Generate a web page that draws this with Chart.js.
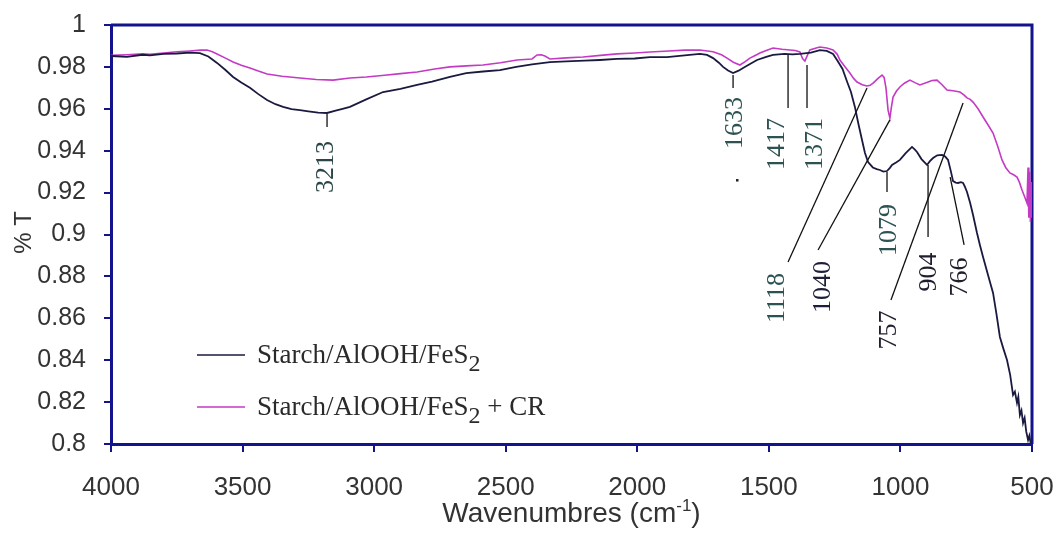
<!DOCTYPE html>
<html>
<head>
<meta charset="utf-8">
<title>FTIR spectra</title>
<script src="https://cdn.jsdelivr.net/npm/chart.js@4.4.0/dist/chart.umd.min.js"></script>
<style>
  html, body { margin: 0; padding: 0; background: #fff; }
  #wrap { width: 1060px; height: 533px; }
</style>
</head>
<body>
<div id="wrap"><canvas id="ftirChart" width="1060" height="533"></canvas></div>
<script>
// Axis ticks
const xTicks = [4000, 3500, 3000, 2500, 2000, 1500, 1000, 500];
const yTicks = [0.8, 0.82, 0.84, 0.86, 0.88, 0.9, 0.92, 0.94, 0.96, 0.98, 1];

// Starch/AlOOH/FeS2 spectrum (wavenumber, transmittance)
const starchWn = [4000, 3940, 3880, 3852, 3800, 3750, 3700, 3662, 3630, 3597, 3565, 3536, 3505, 3472, 3440, 3407, 3375, 3346, 3314, 3282, 3250, 3213, 3179, 3150, 3120, 3092, 3030, 2966, 2900, 2837, 2780, 2712, 2650, 2586, 2522, 2460, 2400, 2332, 2270, 2200, 2142, 2077, 2010, 1952, 1887, 1820, 1762, 1735, 1712, 1690, 1674, 1655, 1636, 1615, 1598, 1570, 1545, 1510, 1484, 1440, 1410, 1382, 1340, 1306, 1280, 1256, 1241, 1220, 1203, 1188, 1173, 1160, 1146, 1135, 1123, 1105, 1090, 1078, 1065, 1051, 1040, 1032, 1015, 1002, 980, 956, 945, 937, 920, 899, 888, 876, 860, 842, 830, 819, 808, 800, 790, 781, 770, 762, 755, 747, 735, 724, 709, 698, 686, 670, 660, 648, 635, 622, 610, 595, 583, 572, 565, 557, 552, 546, 540, 534, 528, 522, 515, 510, 505, 500];
const starchT = [0.9852, 0.9848, 0.9858, 0.9855, 0.9862, 0.9864, 0.9868, 0.9866, 0.985, 0.9819, 0.9785, 0.9752, 0.9725, 0.97, 0.967, 0.9642, 0.9622, 0.9609, 0.9598, 0.9594, 0.9588, 0.9582, 0.958, 0.959, 0.96, 0.9609, 0.9645, 0.968, 0.9695, 0.9714, 0.973, 0.9752, 0.977, 0.9778, 0.9785, 0.98, 0.9812, 0.9823, 0.9826, 0.983, 0.9833, 0.9838, 0.984, 0.9847, 0.9847, 0.9855, 0.9862, 0.9857, 0.9842, 0.982, 0.98, 0.9783, 0.9771, 0.9782, 0.9795, 0.9815, 0.9833, 0.9848, 0.9857, 0.9862, 0.986, 0.9862, 0.9868, 0.988, 0.9876, 0.9862, 0.9833, 0.979, 0.973, 0.968, 0.9609, 0.953, 0.9451, 0.939, 0.9346, 0.932, 0.9312, 0.9308, 0.93, 0.9303, 0.9318, 0.9332, 0.9345, 0.9356, 0.9388, 0.9418, 0.9405, 0.9394, 0.936, 0.9332, 0.935, 0.9365, 0.9378, 0.938, 0.9372, 0.9356, 0.93, 0.9255, 0.9248, 0.9246, 0.925, 0.9246, 0.9228, 0.9203, 0.915, 0.9093, 0.9007, 0.895, 0.8893, 0.882, 0.8775, 0.8721, 0.862, 0.8511, 0.846, 0.8401, 0.833, 0.8234, 0.825, 0.8196, 0.8225, 0.8138, 0.816, 0.81, 0.8125, 0.806, 0.8019, 0.804, 0.8002, 0.8];

// Starch/AlOOH/FeS2 + CR spectrum
const dyedWn = [4000, 3940, 3880, 3852, 3800, 3750, 3700, 3660, 3635, 3615, 3597, 3565, 3536, 3505, 3472, 3440, 3407, 3350, 3282, 3220, 3156, 3092, 3030, 2960, 2900, 2837, 2770, 2712, 2650, 2586, 2520, 2457, 2400, 2381, 2365, 2351, 2332, 2270, 2206, 2140, 2077, 2010, 1952, 1880, 1820, 1762, 1712, 1680, 1659, 1635, 1610, 1590, 1572, 1550, 1534, 1510, 1484, 1450, 1420, 1400, 1382, 1372, 1363, 1352, 1344, 1320, 1306, 1280, 1256, 1240, 1230, 1210, 1192, 1178, 1165, 1145, 1127, 1115, 1104, 1085, 1070, 1062, 1055, 1047, 1040, 1034, 1028, 1015, 1002, 985, 964, 945, 926, 900, 880, 861, 842, 823, 800, 774, 760, 747, 735, 724, 705, 686, 668, 648, 630, 614, 600, 584, 570, 557, 548, 538, 528, 519, 515, 512, 509, 506, 503, 500];
const dyedT = [0.9855, 0.9858, 0.9862, 0.986, 0.9866, 0.9872, 0.9876, 0.988, 0.9881, 0.9872, 0.9862, 0.9842, 0.9823, 0.9808, 0.9795, 0.978, 0.9766, 0.9755, 0.9747, 0.974, 0.9737, 0.9747, 0.9752, 0.976, 0.9768, 0.9776, 0.979, 0.98, 0.9805, 0.9809, 0.982, 0.9833, 0.9838, 0.9857, 0.9858, 0.9852, 0.9838, 0.9843, 0.9847, 0.9855, 0.9862, 0.9866, 0.9871, 0.9876, 0.988, 0.9881, 0.9872, 0.9858, 0.9842, 0.9822, 0.9809, 0.9825, 0.9842, 0.9856, 0.9866, 0.9878, 0.989, 0.9884, 0.9881, 0.9878, 0.9871, 0.984, 0.9828, 0.986, 0.9881, 0.989, 0.9895, 0.989, 0.9881, 0.986, 0.9833, 0.98, 0.9771, 0.9745, 0.9728, 0.9715, 0.9709, 0.9712, 0.9723, 0.9745, 0.9761, 0.975, 0.97, 0.9594, 0.9556, 0.961, 0.9656, 0.9685, 0.9704, 0.9722, 0.9737, 0.9725, 0.9714, 0.9725, 0.9735, 0.9737, 0.9715, 0.969, 0.9686, 0.968, 0.9668, 0.9652, 0.9645, 0.9632, 0.96, 0.9561, 0.9525, 0.9484, 0.942, 0.9356, 0.932, 0.9294, 0.9285, 0.9274, 0.925, 0.9212, 0.918, 0.915, 0.932, 0.908, 0.93, 0.906, 0.925, 0.908];

// Band assignments: label text, leader line ends and label centre, all in data units
const peakLabels = ['3213', '1633', '1417', '1371', '1118', '1040', '1079', '757', '904', '766'];
const peakLines = [
  [[3179, 0.9575], [3179, 0.9513]],
  [[1636, 0.9761], [1636, 0.9699]],
  [[1427, 0.9857], [1427, 0.9604]],
  [[1355, 0.9809], [1355, 0.9604]],
  [[1427, 0.8869], [1127, 0.9699]],
  [[1313, 0.8926], [1040, 0.9547]],
  [[1051, 0.9298], [1051, 0.9203]],
  [[1036, 0.8687], [762, 0.9628]],
  [[895, 0.9332], [895, 0.8988]],
  [[811, 0.9274], [758, 0.895]]
];
const peakTextAt = [[3183, 0.9322], [1629, 0.9532], [1469, 0.9432], [1325, 0.9432], [1469, 0.8697], [1294, 0.8749], [1043, 0.9021], [1043, 0.8544], [891, 0.8821], [774, 0.8797]];
const peakColors = ['#2a4646', '#2d5252', '#2d5252', '#2d5252', '#2d5252', '#1e1e3a', '#2d5252', '#1e1e2e', '#1e1e2e', '#1e1e2e'];

const NAVY = '#13138c';
const TICK_COLOR = '#333333';

function toPoints(xs, ys) {
  return xs.map((x, i) => ({ x: x, y: ys[i] }));
}

// draws "base" + subscript/superscript + tail, returns total width
function drawScript(ctx, x, y, base, script, tail, font, smallFont, shift, measureOnly) {
  ctx.font = font;
  const w1 = ctx.measureText(base).width;
  ctx.font = smallFont;
  const w2 = ctx.measureText(script).width;
  ctx.font = font;
  const w3 = ctx.measureText(tail).width;
  if (!measureOnly) {
    ctx.fillText(base, x, y);
    ctx.font = smallFont;
    ctx.fillText(script, x + w1, y + shift);
    ctx.font = font;
    ctx.fillText(tail, x + w1 + w2, y);
  }
  return w1 + w2 + w3;
}

// box round the plot: top and right edges (left/bottom come from the axes)
const framePlugin = {
  id: 'frame',
  beforeDatasetsDraw(chart) {
    const { ctx, chartArea: a } = chart;
    ctx.save();
    ctx.strokeStyle = NAVY;
    ctx.lineWidth = 3;
    ctx.beginPath();
    ctx.moveTo(a.left, a.top);
    ctx.lineTo(a.right, a.top);
    ctx.lineTo(a.right, a.bottom);
    ctx.stroke();
    ctx.restore();
  }
};

const peakPlugin = {
  id: 'peaks',
  afterDatasetsDraw(chart) {
    const { ctx } = chart;
    const xs = chart.scales.x, ys = chart.scales.y;
    ctx.save();
    ctx.strokeStyle = '#111';
    ctx.lineWidth = 1.3;
    peakLines.forEach(l => {
      ctx.beginPath();
      ctx.moveTo(xs.getPixelForValue(l[0][0]), ys.getPixelForValue(l[0][1]));
      ctx.lineTo(xs.getPixelForValue(l[1][0]), ys.getPixelForValue(l[1][1]));
      ctx.stroke();
    });
    ctx.font = '26px "Liberation Serif"';
    ctx.textAlign = 'center';
    ctx.textBaseline = 'middle';
    peakLabels.forEach((txt, i) => {
      const px = xs.getPixelForValue(peakTextAt[i][0]);
      const py = ys.getPixelForValue(peakTextAt[i][1]);
      ctx.save();
      ctx.translate(px, py);
      ctx.rotate(-Math.PI / 2);
      ctx.fillStyle = peakColors[i];
      ctx.fillText(txt, 0, 0);
      ctx.restore();
    });
    // stray mark under the 1633 label
    ctx.fillStyle = '#222';
    ctx.fillRect(xs.getPixelForValue(1621) - 1, ys.getPixelForValue(0.926) - 1, 2.5, 2.5);
    ctx.restore();
  }
};

const legendPlugin = {
  id: 'sampleLegend',
  afterDatasetsDraw(chart) {
    const { ctx, chartArea: a } = chart;
    const rows = [
      { color: '#1a1a40', tail: '' },
      { color: '#c43ac4', tail: ' + CR' }
    ];
    ctx.save();
    rows.forEach((r, i) => {
      const y = a.top + 330 + i * 52;
      ctx.strokeStyle = r.color;
      ctx.lineWidth = 1.6;
      ctx.beginPath();
      ctx.moveTo(a.left + 86, y);
      ctx.lineTo(a.left + 134, y);
      ctx.stroke();
      ctx.fillStyle = '#2a2a2a';
      ctx.textAlign = 'left';
      ctx.textBaseline = 'alphabetic';
      drawScript(ctx, a.left + 146, y + 8, 'Starch/AlOOH/FeS', '2', r.tail,
        '27px "Liberation Serif"', '24px "Liberation Serif"', 8);
    });
    ctx.restore();
  }
};

const axisTitlePlugin = {
  id: 'axisTitles',
  afterDraw(chart) {
    const { ctx, chartArea: a } = chart;
    ctx.save();
    ctx.fillStyle = TICK_COLOR;
    ctx.textBaseline = 'alphabetic';
    ctx.textAlign = 'left';
    const font = '28px "Liberation Sans"';
    const small = '17px "Liberation Sans"';
    const w = drawScript(ctx, 0, 0, 'Wavenumbres (cm', '-1', ')', font, small, -11, true);
    drawScript(ctx, (a.left + a.right) / 2 - w / 2, 522, 'Wavenumbres (cm', '-1', ')', font, small, -11);
    ctx.translate(31, (a.top + a.bottom) / 2 - 2);
    ctx.rotate(-Math.PI / 2);
    ctx.textAlign = 'center';
    ctx.font = '24px "Liberation Sans"';
    ctx.fillText('% T', 0, 0);
    ctx.restore();
  }
};

new Chart(document.getElementById('ftirChart'), {
  type: 'line',
  data: {
    datasets: [{
      label: 'Starch/AlOOH/FeS₂',
      data: toPoints(starchWn, starchT),
      borderColor: '#1a1a40',
      borderWidth: 1.8,
      pointRadius: 0,
      tension: 0
    }, {
      label: 'Starch/AlOOH/FeS₂ + CR',
      data: toPoints(dyedWn, dyedT),
      borderColor: '#c43ac4',
      borderWidth: 1.6,
      pointRadius: 0,
      tension: 0
    }]
  },
  options: {
    responsive: false,
    animation: false,
    layout: { padding: { top: 25, right: 28, left: 0, bottom: 0 } },
    plugins: {
      legend: { display: false },
      tooltip: { enabled: false }
    },
    scales: {
      x: {
        type: 'linear',
        reverse: true,
        min: 500,
        max: 4000,
        afterBuildTicks: s => { s.ticks = xTicks.map(v => ({ value: v })); },
        afterFit: s => { s.height = 89; s.paddingLeft = 0; s.paddingRight = 0; },
        ticks: {
          autoSkip: false,
          maxRotation: 0,
          padding: 20,
          color: TICK_COLOR,
          font: { family: 'Liberation Sans', size: 26 },
          callback: v => String(v)
        },
        grid: { drawOnChartArea: false, tickLength: 8, color: NAVY, lineWidth: 2 },
        border: { color: NAVY, width: 3 }
      },
      y: {
        min: 0.8,
        max: 1,
        afterBuildTicks: s => { s.ticks = yTicks.map(v => ({ value: v })); },
        afterFit: s => { s.width = 111; s.paddingTop = 0; s.paddingBottom = 0; },
        ticks: {
          padding: 18,
          color: TICK_COLOR,
          font: { family: 'Liberation Sans', size: 25 },
          callback: v => String(+v.toFixed(2))
        },
        grid: { drawOnChartArea: false, tickLength: 7, color: NAVY, lineWidth: 2 },
        border: { color: NAVY, width: 3 }
      }
    }
  },
  plugins: [framePlugin, peakPlugin, legendPlugin, axisTitlePlugin]
});
</script>
</body>
</html>
